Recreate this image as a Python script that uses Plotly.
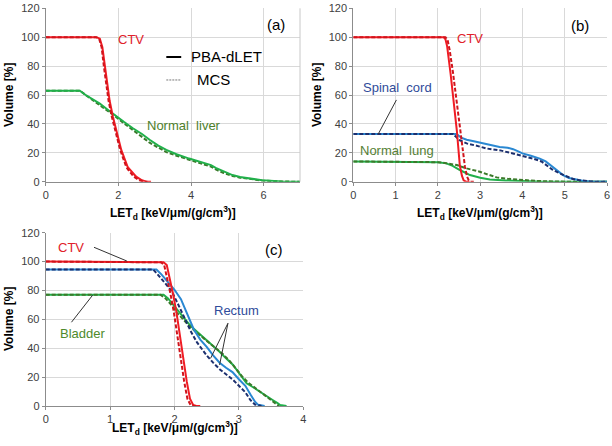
import plotly.graph_objects as go

# ---------------- data ----------------
# Panel (a)
a_ctv_pba_x = [0, 1.40, 1.49, 1.56, 1.63, 1.70, 1.76, 1.85, 1.96, 2.08, 2.26, 2.49, 2.65, 2.77, 2.9]
a_ctv_pba_y = [100, 100, 99, 93, 80, 68, 56, 45, 33, 22, 10, 3.5, 1, 0, 0]
a_ctv_mcs_x = [0, 1.38, 1.47, 1.54, 1.60, 1.67, 1.73, 1.82, 1.93, 2.05, 2.22, 2.42, 2.58, 2.70, 2.8]
a_ctv_mcs_y = [100, 100, 99, 93, 80, 68, 56, 45, 33, 22, 10, 3.5, 1, 0, 0]
a_liv_x = [0, 0.94, 1.1, 1.3, 1.49, 1.7, 1.9, 2.15, 2.4, 2.65, 2.86, 3.1, 3.32, 3.6, 3.95, 4.2,
           4.41, 4.55, 4.68, 4.9, 5.14, 5.35, 5.6, 5.96, 6.5, 7.0]
a_liv_pba_y = [63, 63, 60, 57, 54, 50, 46, 41.5, 37, 33, 29, 25, 22, 19, 16, 14,
               12.7, 11.5, 9.5, 7, 4.6, 3.2, 2.3, 1, 0.2, 0]
a_liv_mcs_y = [63, 63, 60, 56.5, 53, 49, 45.5, 40.5, 35.5, 31, 27, 23.5, 20.5, 18, 15, 13,
               11.5, 10.5, 8.5, 6, 4, 2.8, 1.8, 0.8, 0.1, 0]

# Panel (b)
b_ctv_pba_x = [0, 2.14, 2.18, 2.22, 2.30, 2.38, 2.45, 2.52, 2.57, 2.61, 2.66, 2.75]
b_ctv_pba_y = [100, 100, 98.5, 93.5, 75, 55, 35, 11, 4, 1, 0, 0]
b_ctv_mcs_x = [0, 2.18, 2.23, 2.28, 2.36, 2.45, 2.55, 2.64, 2.69, 2.73, 2.77, 2.85]
b_ctv_mcs_y = [100, 100, 98, 91, 75, 55, 33, 10.4, 3.5, 1, 0, 0]
b_sc_pba_x = [0, 2.44, 2.55, 2.68, 2.85, 3.0, 3.2, 3.46, 3.65, 3.78, 3.9, 4.0, 4.2, 4.41, 4.55,
              4.72, 4.85, 4.96, 5.1, 5.28, 5.45, 5.59, 5.83, 6.0]
b_sc_pba_y = [33, 33, 30.5, 29, 28, 27, 25.5, 24, 23.5, 22.5, 21, 19.6, 18, 16, 14,
              10, 7, 4.6, 2.5, 1.2, 0.5, 0.2, 0, 0]
b_sc_mcs_x = [0, 2.36, 2.5, 2.68, 2.9, 3.15, 3.5, 3.78, 4.0, 4.25, 4.45, 4.57, 4.7, 4.88, 5.05,
              5.2, 5.35, 5.5, 5.7, 6.0]
b_sc_mcs_y = [33, 33, 29, 26.5, 25, 23, 21.5, 19.6, 18, 16, 14, 11.5, 8.5, 5.8, 3.5,
              1.8, 1, 0.5, 0, 0]
b_lung_pba_x = [0, 1.7, 2.0, 2.2, 2.35, 2.52, 2.65, 2.76, 3.0, 3.23, 3.6, 4.0, 4.5, 6.0]
b_lung_pba_y = [14, 14, 13.5, 12.7, 11, 8.1, 6, 4.6, 2.7, 1.6, 0.9, 0.5, 0, 0]
b_lung_mcs_x = [0, 1.6, 2.0, 2.2, 2.45, 2.68, 2.99, 3.2, 3.39, 3.65, 3.94, 4.3, 4.57, 5.0, 6.0]
b_lung_mcs_y = [14, 14, 13.5, 12.8, 11.5, 9.2, 6.9, 4.8, 3, 2, 1.2, 0.6, 0.3, 0, 0]

# Panel (c)
c_ctv_pba_x = [0, 1.77, 1.83, 1.88, 1.93, 1.98, 2.03, 2.08, 2.14, 2.19, 2.24, 2.29, 2.34, 2.4]
c_ctv_pba_y = [100, 100, 99.5, 97.6, 88, 77, 65, 49, 33, 17, 5, 0.7, 0, 0]
c_ctv_mcs_x = [0, 1.73, 1.79, 1.84, 1.89, 1.94, 1.99, 2.04, 2.10, 2.15, 2.20, 2.25, 2.30, 2.35]
c_ctv_mcs_y = [100, 100, 99.5, 97.6, 88, 77, 65, 49, 33, 17, 5, 0.7, 0, 0]
c_rec_pba_x = [0, 1.72, 1.8, 1.9, 2.0, 2.1, 2.2, 2.3, 2.4, 2.5, 2.6, 2.7, 2.8, 2.9, 3.0, 3.1,
               3.18, 3.25, 3.3, 3.4]
c_rec_pba_y = [94.5, 94.5, 91, 86, 80.5, 74, 64, 53, 46, 41, 35, 30, 26.5, 23.5, 18.5, 14,
               8, 3, 0.8, 0]
c_rec_mcs_x = [0, 1.67, 1.75, 1.85, 1.95, 2.05, 2.15, 2.25, 2.35, 2.5, 2.6, 2.7, 2.8, 2.9, 3.0,
               3.1, 3.18, 3.25, 3.35]
c_rec_mcs_y = [94.5, 94.5, 90.5, 85, 80, 71, 61, 52, 44, 35, 30, 25.5, 22, 18.5, 14,
               9.5, 4, 1, 0]
c_bla_pba_x = [0, 1.83, 1.9, 1.98, 2.06, 2.14, 2.22, 2.29, 2.4, 2.5, 2.6, 2.7, 2.8, 2.91, 3.0,
               3.12, 3.22, 3.33, 3.43, 3.53, 3.6, 3.64, 3.74]
c_bla_pba_y = [77, 77, 74.5, 70, 65.5, 60.7, 57, 53.8, 49.5, 45.7, 41.5, 37.6, 33, 28.4, 23,
               15.7, 13, 10, 7, 4, 2, 0.7, 0]
c_bla_mcs_x = [0, 1.78, 1.86, 1.95, 2.04, 2.14, 2.24, 2.34, 2.45, 2.55, 2.65, 2.75, 2.85, 2.95,
               3.05, 3.15, 3.25, 3.35, 3.45, 3.55, 3.62]
c_bla_mcs_y = [77, 77, 74.5, 70, 64.5, 59.5, 55, 51, 47, 43.5, 40, 36, 31.5, 26,
               20.5, 16, 12.5, 9, 5.5, 2, 0]

y_ticks = [0, 20, 40, 60, 80, 100, 120]

# ---------------- styles ----------------
RED_S, RED_D = "#f01c24", "#d0141c"
GRN_S, GRN_D = "#21b04b", "#3b7a2a"
BLU_S, BLU_D = "#2a88d2", "#1c2f6e"
DASH = "4px,2px"
LW = 2

fig = go.Figure()


def add(x, y, color, dash, xa, ya):
    fig.add_trace(go.Scatter(x=x, y=y, mode="lines", xaxis=xa, yaxis=ya,
                             line=dict(color=color, width=LW, dash=dash),
                             showlegend=False, hoverinfo="skip"))


# (a)
add(a_liv_x, a_liv_mcs_y, GRN_D, DASH, "x", "y")
add(a_liv_x, a_liv_pba_y, GRN_S, "solid", "x", "y")
add(a_ctv_pba_x, a_ctv_pba_y, RED_S, "solid", "x", "y")
add(a_ctv_mcs_x, a_ctv_mcs_y, RED_D, DASH, "x", "y")
# (b)
add(b_lung_pba_x, b_lung_pba_y, GRN_S, "solid", "x2", "y2")
add(b_lung_mcs_x, b_lung_mcs_y, GRN_D, DASH, "x2", "y2")
add(b_sc_pba_x, b_sc_pba_y, BLU_S, "solid", "x2", "y2")
add(b_sc_mcs_x, b_sc_mcs_y, BLU_D, DASH, "x2", "y2")
add(b_ctv_pba_x, b_ctv_pba_y, RED_S, "solid", "x2", "y2")
add(b_ctv_mcs_x, b_ctv_mcs_y, RED_D, DASH, "x2", "y2")
# (c)
add(c_bla_pba_x, c_bla_pba_y, GRN_S, "solid", "x3", "y3")
add(c_bla_mcs_x, c_bla_mcs_y, GRN_D, DASH, "x3", "y3")
add(c_rec_pba_x, c_rec_pba_y, BLU_S, "solid", "x3", "y3")
add(c_rec_mcs_x, c_rec_mcs_y, BLU_D, DASH, "x3", "y3")
add(c_ctv_pba_x, c_ctv_pba_y, RED_S, "solid", "x3", "y3")
add(c_ctv_mcs_x, c_ctv_mcs_y, RED_D, DASH, "x3", "y3")

W, H = 612, 446
def px(v): return v / W
def py(v): return 1 - v / H

tickfont = dict(family="Liberation Sans, Arial", size=11, color="#404040")
common_x = dict(showgrid=True, gridcolor="#d9d9d9", gridwidth=1, showline=True,
                linecolor="#8c8c8c", linewidth=1, ticks="outside", ticklen=3,
                tickcolor="#8c8c8c", tickfont=tickfont, zeroline=False, automargin=False)
common_y = dict(common_x, range=[0, 120], tickvals=y_ticks)

fig.update_layout(
    width=W, height=H, margin=dict(l=0, r=0, t=0, b=0, autoexpand=False),
    paper_bgcolor="white", plot_bgcolor="white",
    font=dict(family="Liberation Sans, Arial", color="#000"),
    xaxis=dict(common_x, domain=[px(45.7), px(300)], range=[0, 7], dtick=2, anchor="y"),
    yaxis=dict(common_y, domain=[py(181.7), py(8.3)], anchor="x"),
    xaxis2=dict(common_x, domain=[px(353.3), px(607)], range=[0, 6], dtick=1, anchor="y2"),
    yaxis2=dict(common_y, domain=[py(181.7), py(8.3)], anchor="x2"),
    xaxis3=dict(common_x, domain=[px(45.7), px(303.3)], range=[0, 4], dtick=1, anchor="y3"),
    yaxis3=dict(common_y, domain=[py(406), py(232.7)], anchor="x3"),
)

# right border of panel (a) (range ends at 7, not a grid tick)
fig.add_shape(type="line", xref="x domain", yref="y domain", x0=1, x1=1, y0=0, y1=1,
              line=dict(color="#c8c8c8", width=1))

ann = []
lblfont = lambda c, s=13: dict(family="Liberation Sans, Arial", size=s, color=c)


def note(x, y, xref, yref, text, font, xanchor="center", **kw):
    ann.append(dict(x=x, y=y, xref=xref, yref=yref, text=text, showarrow=False,
                    xanchor=xanchor, yanchor="middle", font=font, **kw))


# panel letters
note(6.34, 109, "x", "y", "(a)", lblfont("#000", 15))
note(5.37, 108, "x2", "y2", "(b)", lblfont("#000", 15))
note(3.54, 108.7, "x3", "y3", "(c)", lblfont("#000", 15))
# (a) labels
note(2.36, 98.6, "x", "y", "CTV", lblfont("#e0202a"))
note(3.81, 38.6, "x", "y", "Normal  liver", lblfont("#4e7f2c"))
note(3.95, 86.3, "x", "y", "PBA-dLET", lblfont("#000", 15), xanchor="left")
note(4.1, 70.4, "x", "y", "MCS", lblfont("#000", 15), xanchor="left")
# (b) labels
note(2.76, 98.8, "x2", "y2", "CTV", lblfont("#e0202a"))
note(1.04, 65.5, "x2", "y2", "Spinal  cord", lblfont("#2f4b9a"))
note(1.04, 21.9, "x2", "y2", "Normal  lung", lblfont("#557f35"))
# (c) labels
note(0.40, 109.9, "x3", "y3", "CTV", lblfont("#e0202a"))
note(2.96, 65.8, "x3", "y3", "Rectum", lblfont("#2f4b9a"))
note(0.57, 50.3, "x3", "y3", "Bladder", lblfont("#4e8a2c"))

# axis titles
xt = "LET<sub>d</sub> [keV/μm/(g/cm<sup>3</sup>)]"
tfont = dict(family="Liberation Sans, Arial", size=12, color="#000")
for xc, yc in [(173, 213), (480, 213), (174.5, 428)]:
    note(px(xc), py(yc), "paper", "paper", "<b>" + xt + "</b>", tfont)
for xc, yc in [(9, 95), (317, 95), (9, 319)]:
    note(px(xc), py(yc), "paper", "paper", "<b>Volume [%]</b>", tfont, textangle=-90)
fig.update_layout(annotations=ann)

# legend sample lines (a)
fig.add_shape(type="line", xref="x", yref="y", x0=3.32, x1=3.73, y0=86.3, y1=86.3,
              line=dict(color="#000", width=2))
fig.add_shape(type="line", xref="x", yref="y", x0=3.32, x1=3.73, y0=70.4, y1=70.4,
              line=dict(color="#777", width=1, dash="2px,1px"))
# leader lines
fig.add_shape(type="line", xref="x2", yref="y2", x0=1.02, y0=56.6, x1=0.59, y1=33,
              line=dict(color="#333", width=1))
fig.add_shape(type="line", xref="x3", yref="y3", x0=0.75, y0=109.9, x1=1.26, y1=100.4,
              line=dict(color="#333", width=1))
fig.add_shape(type="line", xref="x3", yref="y3", x0=0.40, y0=58, x1=0.73, y1=76.8,
              line=dict(color="#333", width=1))
fig.add_shape(type="line", xref="x3", yref="y3", x0=2.83, y0=57.3, x1=2.56, y1=33,
              line=dict(color="#333", width=1))
fig.add_shape(type="line", xref="x3", yref="y3", x0=2.83, y0=57.3, x1=2.70, y1=28.4,
              line=dict(color="#333", width=1))

fig.write_html("out.html")
